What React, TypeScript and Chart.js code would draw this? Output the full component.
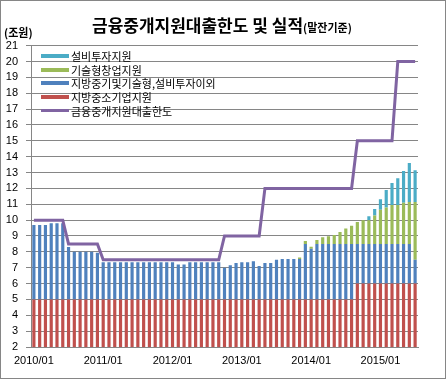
import React, { useEffect, useRef } from "react";
import { Chart, registerables } from "chart.js";

Chart.register(...registerables);

// Categories: monthly 2010/01 .. 2015/07
const years = [2010, 2011, 2012, 2013, 2014, 2015];
const categories: string[] = [];
for (const y of years) {
  for (let m = 1; m <= 12; m++) {
    if (y === 2015 && m > 7) break;
    categories.push(`${y}/${m < 10 ? "0" + m : m}`);
  }
}

const seriesNames = [
  "지방중소기업지원",
  "지방중기및기술형,설비투자이외",
  "기술형창업지원",
  "설비투자지원",
  "금융중개지원대출한도",
];

// 지방중소기업지원
const regionalSME = [
  5, 5, 5, 5, 5, 5, 5, 5, 5, 5, 5, 5,
  5, 5, 5, 5, 5, 5, 5, 5, 5, 5, 5, 5,
  5, 5, 5, 5, 5, 5, 5, 5, 5, 5, 5, 5,
  5, 5, 5, 5, 5, 5, 5, 5, 5, 5, 5, 5,
  5, 5, 5, 5, 5, 5, 5, 5, 6, 6, 6, 6,
  6, 6, 6, 6, 6, 6, 6,
];

// 지방중기및기술형,설비투자이외
const otherSupport = [
  4.7, 4.7, 4.7, 4.8, 4.8, 4.8, 3.3, 3.0, 3.0, 3.0, 3.0, 2.95,
  2.35, 2.35, 2.35, 2.35, 2.35, 2.35, 2.35, 2.35, 2.35, 2.35, 2.35, 2.35,
  2.35, 2.2, 2.2, 2.35, 2.35, 2.35, 2.35, 2.35, 2.35, 2.0, 2.15, 2.3,
  2.35, 2.35, 2.4, 2.1, 2.3, 2.3, 2.5, 2.55, 2.55, 2.55, 2.55, 3.5,
  3.2, 3.5, 3.5, 3.5, 3.5, 3.5, 3.5, 3.5, 2.5, 2.5, 2.5, 2.5,
  2.5, 2.5, 2.5, 2.5, 2.5, 2.5, 1.5,
];

// 기술형창업지원
const techStartup = [
  0, 0, 0, 0, 0, 0, 0, 0, 0, 0, 0, 0,
  0, 0, 0, 0, 0, 0, 0, 0, 0, 0, 0, 0,
  0, 0, 0, 0, 0, 0, 0, 0, 0, 0, 0, 0,
  0, 0, 0, 0, 0, 0, 0, 0, 0, 0, 0.1, 0.18,
  0.12, 0.25, 0.42, 0.48, 0.56, 0.75, 0.98, 1.15, 1.38, 1.5, 1.5, 1.8,
  2.15, 2.3, 2.45, 2.45, 2.6, 2.65, 3.65,
];

// 설비투자지원
const facilityInvest = [
  0, 0, 0, 0, 0, 0, 0, 0, 0, 0, 0, 0,
  0, 0, 0, 0, 0, 0, 0, 0, 0, 0, 0, 0,
  0, 0, 0, 0, 0, 0, 0, 0, 0, 0, 0, 0,
  0, 0, 0, 0, 0, 0, 0, 0, 0, 0, 0, 0,
  0, 0, 0, 0, 0, 0, 0, 0, 0, 0, 0.25, 0.4,
  0.67, 1.1, 1.39, 1.69, 2.0, 2.45, 2.0,
];

// 금융중개지원대출한도
const loanCeiling = [
  10, 10, 10, 10, 10, 10, 8.5, 8.5, 8.5, 8.5, 8.5, 8.5,
  7.5, 7.5, 7.5, 7.5, 7.5, 7.5, 7.5, 7.5, 7.5, 7.5, 7.5, 7.5,
  7.5, 7.5, 7.5, 7.5, 7.5, 7.5, 7.5, 7.5, 7.5, 9, 9, 9,
  9, 9, 9, 9, 12, 12, 12, 12, 12, 12, 12, 12,
  12, 12, 12, 12, 12, 12, 12, 12, 15, 15, 15, 15,
  15, 15, 15, 20, 20, 20, 20,
];

const yMin = 2;
const yMax = 21;

const COLORS = {
  red: "#C0504D",
  blue: "#4F81BD",
  green: "#9BBB59",
  teal: "#4BACC6",
  purple: "#8064A2",
  grid: "#868686",
};

const legendItems = [
  { label: seriesNames[3], color: COLORS.teal, line: false },
  { label: seriesNames[2], color: COLORS.green, line: false },
  { label: seriesNames[1], color: COLORS.blue, line: false },
  { label: seriesNames[0], color: COLORS.red, line: false },
  { label: seriesNames[4], color: COLORS.purple, line: true },
];

const W = 446;
const H = 379;

export default function App() {
  const ref = useRef<HTMLCanvasElement | null>(null);

  useEffect(() => {
    if (!ref.current) return;
    const barCommon = {
      type: "bar" as const,
      barPercentage: 0.55,
      categoryPercentage: 1,
      borderWidth: 0,
      order: 1,
    };
    const chart = new Chart(ref.current, {
      type: "bar",
      data: {
        labels: categories,
        datasets: [
          { ...barCommon, label: seriesNames[0], data: regionalSME, backgroundColor: COLORS.red },
          { ...barCommon, label: seriesNames[1], data: otherSupport, backgroundColor: COLORS.blue },
          { ...barCommon, label: seriesNames[2], data: techStartup, backgroundColor: COLORS.green },
          { ...barCommon, label: seriesNames[3], data: facilityInvest, backgroundColor: COLORS.teal },
          {
            type: "line" as const,
            label: seriesNames[4],
            data: loanCeiling,
            borderColor: COLORS.purple,
            backgroundColor: COLORS.purple,
            borderWidth: 3,
            pointRadius: 0,
            tension: 0,
            fill: false,
            order: -1,
          } as any,
        ],
      },
      options: {
        responsive: false,
        animation: false,
        devicePixelRatio: 1,
        layout: { padding: { left: 0, right: W - 418, top: 45.7, bottom: 0 } },
        plugins: {
          legend: { display: false },
          title: { display: false },
          tooltip: { enabled: false },
        },
        scales: {
          x: {
            stacked: true,
            offset: true,
            grid: { display: false, drawTicks: false },
            border: { display: true, color: COLORS.grid, width: 1 },
            ticks: {
              autoSkip: false,
              maxRotation: 0,
              minRotation: 0,
              padding: 7,
              color: "#000",
              font: { family: "'Liberation Sans', Arial, sans-serif", size: 11 },
              callback: (_v: any, i: number) =>
                categories[i].endsWith("/01") ? categories[i] : "",
            },
            afterFit: (scale: any) => {
              scale.height = H - 347;
            },
          },
          y: {
            stacked: true,
            min: yMin,
            max: yMax,
            grid: {
              color: COLORS.grid,
              lineWidth: 1,
              drawTicks: true,
              tickLength: 5,
            },
            border: { display: true, color: COLORS.grid, width: 1 },
            ticks: {
              stepSize: 1,
              autoSkip: false,
              padding: 8,
              color: "#000",
              font: { family: "'Liberation Sans', Arial, sans-serif", size: 11 },
            },
            afterFit: (scale: any) => {
              scale.width = 31;
            },
          },
        },
      },
    });
    return () => chart.destroy();
  }, []);

  const cjk = "'Noto Sans CJK KR', 'Noto Sans', sans-serif";

  return (
    <div
      style={{
        position: "absolute",
        left: 0,
        top: 0,
        width: W,
        height: H,
        background: "#fff",
        overflow: "hidden",
      }}
    >
      <canvas ref={ref} width={W} height={H} style={{ position: "absolute", left: 0, top: 0, width: W, height: H }} />
      <div
        style={{
          position: "absolute",
          left: 92,
          top: 15,
          height: 20,
          lineHeight: "20px",
          fontFamily: cjk,
          fontSize: 17,
          fontWeight: 700,
          color: "#000",
          whiteSpace: "nowrap",
        }}
      >
        금융중개지원대출한도 및 실적
        <span style={{ fontSize: 11, fontWeight: 700 }}>(말잔기준)</span>
      </div>
      <div
        style={{
          position: "absolute",
          left: 4,
          top: 25,
          lineHeight: "14px",
          fontFamily: cjk,
          fontSize: 11,
          fontWeight: 700,
          color: "#000",
          whiteSpace: "nowrap",
        }}
      >
        (조원)
      </div>
      {legendItems.map((it, i) => {
        const cy = 55.7 + i * 13.8;
        return (
          <div key={i}>
            <div
              style={{
                position: "absolute",
                left: 40.5,
                top: cy - (it.line ? 1.5 : 2),
                width: 28,
                height: it.line ? 3 : 4,
                background: it.color,
              }}
            />
            <div
              style={{
                position: "absolute",
                left: 71,
                top: cy - 7,
                height: 14,
                lineHeight: "14px",
                fontFamily: cjk,
                fontSize: 11,
                color: "#000",
                whiteSpace: "nowrap",
              }}
            >
              {it.label}
            </div>
          </div>
        );
      })}
      <div
        style={{
          position: "absolute",
          left: 0,
          top: 0,
          width: W,
          height: H,
          boxSizing: "border-box",
          border: "1px solid #868686",
          pointerEvents: "none",
        }}
      />
    </div>
  );
}
